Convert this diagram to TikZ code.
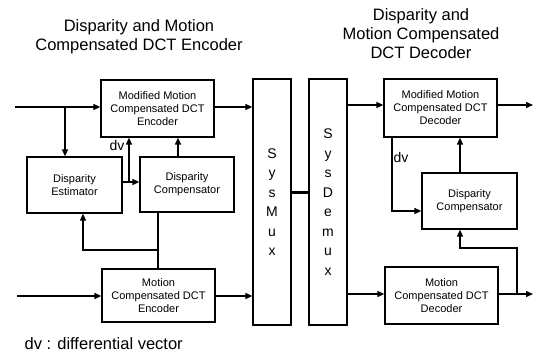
\documentclass[tikz,border=0pt]{standalone}
\usepackage{fontspec}
\setmainfont{Liberation Sans}
\usetikzlibrary{arrows.meta}
\begin{document}
\begin{tikzpicture}[x=1pt,y=-1pt,
  line width=1.3pt,
  arr/.style={-{Triangle[length=7pt,width=6pt]}},
  blk/.style={draw,inner sep=0pt,align=center,font=\fontsize{11}{13}\selectfont},
  title/.style={align=center,font=\fontsize{16.5}{19}\selectfont},
  vbar/.style={draw,inner sep=0pt,minimum width=38pt,minimum height=246pt,align=center,font=\fontsize{14}{19.5}\selectfont},
  lbl/.style={font=\fontsize{14}{14}\selectfont,inner sep=0pt}]
\useasboundingbox (0,0) rectangle (537,355);
% titles
\node[title] (t1) at (139,37) {Disparity and Motion\\Compensated DCT Encoder};
\node[title] (t2) at (421,34) {Disparity and\\Motion Compensated\\DCT Decoder};
% encoder blocks
\node[blk,minimum width=113pt,minimum height=57pt] (mmce) at (157.5,108.5) {Modified Motion\\Compensated DCT\\Encoder};
\node[blk,minimum width=95pt,minimum height=56pt] (de) at (74.5,185) {Disparity\\Estimator};
\node[blk,minimum width=94pt,minimum height=55pt] (dce) at (187,184.5) {Disparity\\Compensator};
\node[blk,minimum width=113pt,minimum height=53pt] (mce) at (158.5,295.5) {Motion\\Compensated DCT\\Encoder};
% mux / demux
\node[vbar] (mux) at (272,202) {S\\y\\s\\M\\u\\x};
\node[vbar] (demux) at (328,202) {S\\y\\s\\D\\e\\m\\u\\x};
% decoder blocks
\node[blk,minimum width=113pt,minimum height=58pt] (mmcd) at (440.5,108) {Modified Motion\\Compensated DCT\\Decoder};
\node[blk,minimum width=95pt,minimum height=56pt] (dcd) at (469.5,201) {Disparity\\Compensator};
\node[blk,minimum width=113pt,minimum height=57pt] (mcd) at (441.5,295.5) {Motion\\Compensated DCT\\Decoder};
% coordinates
\coordinate (in1) at (15,107);
\coordinate (b1) at (65,107);
\coordinate (j) at (129,182);
\coordinate (k) at (178,0);
\coordinate (m) at (158,250);
\coordinate (mL) at (83,0);
\coordinate (in2) at (17,296);
\coordinate (ym) at (0,193);
\coordinate (yd) at (0,105);
\coordinate (out1) at (533,105);
\coordinate (dvd) at (392,211);
\coordinate (kd) at (460,248);
\coordinate (yb) at (0,294);
\coordinate (out2) at (533,294);
\coordinate (br) at (517,294);
% encoder connectors
\draw[arr] (in1) -- (in1 -| mmce.west);
\draw[arr] (b1) -- (b1 |- de.north);
\draw[arr] (mmce.east |- in1) -- (mux.west |- in1);
\draw[arr] (de.east |- j) -- (dce.west |- j);
\draw[arr] (j) -- (j |- mmce.south);
\node[lbl] (dv1) at (117,145) {dv};
\draw[arr] (dce.north -| k) -- (mmce.south -| k);
\draw (mce.north -| m) -- (dce.south -| m);
\draw[arr] (m) -| (de.south -| mL);
\draw[arr] (in2) -- (in2 -| mce.west);
\draw[arr] (mce.east |- in2) -- (mux.west |- in2);
% mux to demux
\draw[line width=3pt] (mux.east |- ym) -- (demux.west |- ym);
% decoder connectors
\draw[arr] (demux.east |- yd) -- (mmcd.west |- yd);
\draw[arr] (mmcd.east |- yd) -- (out1);
\draw[arr] (mmcd.south -| dvd) |- (dcd.west |- dvd);
\node[lbl] (dv2) at (401,157) {dv};
\draw[arr] (dcd.north -| kd) -- (mmcd.south -| kd);
\draw[arr] (demux.east |- yb) -- (mcd.west |- yb);
\draw[arr] (mcd.east |- yb) -- (out2);
\draw[arr] (br) |- (kd) -- (dcd.south -| kd);
% legend
\node[anchor=west,font=\fontsize{16.5}{19}\selectfont,inner sep=0pt] (leg) at (24,344) {dv : differential vector};
\end{tikzpicture}
\end{document}
